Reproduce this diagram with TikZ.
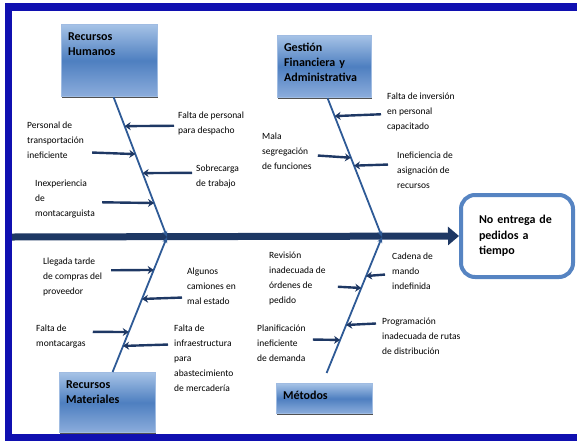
\documentclass[tikz,border=0pt]{standalone}
\usepackage{fontspec}
\setmainfont{Carlito}
\usetikzlibrary{calc,arrows.meta,shadows}
\definecolor{marco}{RGB}{16,16,176}
\definecolor{espina}{RGB}{30,56,100}
\definecolor{hueso}{RGB}{46,90,150}
\definecolor{cajaarriba}{RGB}{165,194,230}
\definecolor{cajamedio}{RGB}{78,127,192}
\definecolor{cajaabajo}{RGB}{140,173,220}
\definecolor{cajaborde}{RGB}{160,188,226}
\definecolor{efectoborde}{RGB}{86,132,194}

\begin{document}
\begin{tikzpicture}[x=1pt,y=-1pt, >={Stealth[length=6pt,width=8pt]},
	cat/.style={rectangle, draw=cajaborde, line width=1.2pt, top color=cajaarriba,
	bottom color=cajaabajo, middle color=cajamedio, anchor=north west, align=left,
	font=\bfseries\fontsize{12}{15}\selectfont, inner xsep=6.5pt, inner ysep=7pt, text height=9pt,
	drop shadow={shadow xshift=0pt, shadow yshift=-1.5pt, fill=black!85, opacity=.8}},
	txt/.style={anchor=north west, align=left, inner sep=0pt, font=\fontsize{9.5}{15}\selectfont},
	flecha/.style={->, espina, line width=2.4pt},
	rama/.style={-{Stealth[length=6pt,width=5pt]}, hueso, line width=1.8pt}]

\useasboundingbox (0,0) rectangle (577,442);
\clip (0,0) rectangle (577,442);
\draw[marco, line width=7.5pt] (8.5,7) rectangle (600,437.5);

% categorias
\node[cat, text width=83pt, text depth=49pt] at (61,24)(rh) {Recursos\\Humanos};
\node[cat, text width=81pt, text depth=39pt] at (277,35)(gf) {Gestión\\Financiera y\\Administrativa};
\node[cat, text width=83pt, text depth=37pt] at (59,372)(rm) {Recursos\\Materiales};
\node[cat, text width=83pt, text depth=7pt] at (276,383)(me) {Métodos};

% efecto
\node[rectangle, rounded corners=14pt, draw=efectoborde, line width=4pt, fill=white,
	text width=76pt, inner xsep=18pt, minimum height=82pt, align=left,
	font=\bfseries\fontsize{12}{15.5}\selectfont] at (517,236)(ef) {No entrega de\\pedidos a\\tiempo};

\coordinate (sp) at (12,237);
\coordinate (j1) at (167,237);
\coordinate (j2) at (382,237);
\coordinate (rh0) at ([xshift=4pt]rh.south);
\coordinate (gf0) at ([xshift=3pt]gf.south);
\coordinate (rm0) at ([xshift=5pt]rm.north);
\coordinate (me0) at ([shift={(2pt,10pt)}]me.north);

\draw[espina, line width=7pt, -{Triangle[length=11pt,width=18pt]}] (sp) -- (ef.west);
\draw[rama] (rh0) -- (j1);
\draw[rama] (gf0) -- (j2);
\draw[rama] (rm0) -- (j1);
\draw[rama] (me0) -- (j2);

% causas: recursos humanos
\node[txt] at (178,112)(tA) {Falta de personal\\para despacho};
\node[txt] at (27,122)(tB) {Personal de\\transportación\\ineficiente};
\node[txt] at (196,165)(tC) {Sobrecarga\\de trabajo};
\node[txt] at (35,180)(tD) {Inexperiencia\\de\\montacarguista};
\draw[flecha] ([shift={(-4pt,-2pt)}]tA.west) -- ($(rh0)!.207!(j1)$);
\draw[flecha] ([shift={(8pt,-12pt)}]tB.east) -- ($(rh0)!.407!(j1)$);
\draw[flecha] ([shift={(-4pt,4pt)}]tC.west) -- ($(rh0)!.543!(j1)$);
\draw[flecha] ([shift={(7pt,-3pt)}]tD.east) -- ($(rh0)!.757!(j1)$);

% causas: gestion
\node[txt] at (387,93)(tE) {Falta de inversión\\en personal\\capacitado};
\node[txt] at (262,133)(tF) {Mala\\segregación\\de funciones};
\node[txt] at (397,152)(tG) {Ineficiencia de\\asignación de\\recursos};
\draw[flecha] ([shift={(-6pt,-2pt)}]tE.west) -- ($(gf0)!.129!(j2)$);
\draw[flecha] ([shift={(6pt,-4pt)}]tF.east) -- ($(gf0)!.429!(j2)$);
\draw[flecha] ([shift={(-9pt,6pt)}]tG.west) -- ($(gf0)!.486!(j2)$);

% causas: recursos materiales
\node[txt] at (43,258)(tH) {Llegada tarde\\de compras del\\proveedor};
\node[txt] at (187,268)(tI) {Algunos\\camiones en\\mal estado};
\node[txt] at (36,325)(tJ) {Falta de\\montacargas};
\node[txt] at (174,325)(tK) {Falta de\\infraestructura\\para\\abastecimiento\\de mercadería};
\draw[flecha] ([shift={(9pt,7pt)}]tH.east) -- ($(rm0)!.756!(j1)$);
\draw[flecha] ([shift={(-5pt,-11pt)}]tI.west) -- ($(rm0)!.541!(j1)$);
\draw[flecha] ([shift={(7pt,5pt)}]tJ.east) -- ($(rm0)!.296!(j1)$);
\draw[flecha] ([shift={(-6pt,14pt)}]tK.west) -- ($(rm0)!.193!(j1)$);

% causas: metodos
\node[txt] at (269,252)(tL) {Revisión\\inadecuada de\\órdenes de\\pedido};
\node[txt] at (392,253)(tM) {Cadena de\\mando\\indefinida};
\node[txt] at (257,325)(tN) {Planificación\\ineficiente\\de demanda};
\node[txt] at (382,318)(tO) {Programación\\inadecuada de rutas\\de distribución};
\draw[flecha] ([shift={(12pt,-8pt)}]tL.east) -- ($(me0)!.625!(j2)$);
\draw[flecha] ([shift={(-7pt,-3pt)}]tM.west) -- ($(me0)!.713!(j2)$);
\draw[flecha] ([shift={(7pt,4pt)}]tN.east) -- ($(me0)!.243!(j2)$);
\draw[flecha] ([shift={(-6pt,13pt)}]tO.west) -- ($(me0)!.353!(j2)$);
\end{tikzpicture}
\end{document}
